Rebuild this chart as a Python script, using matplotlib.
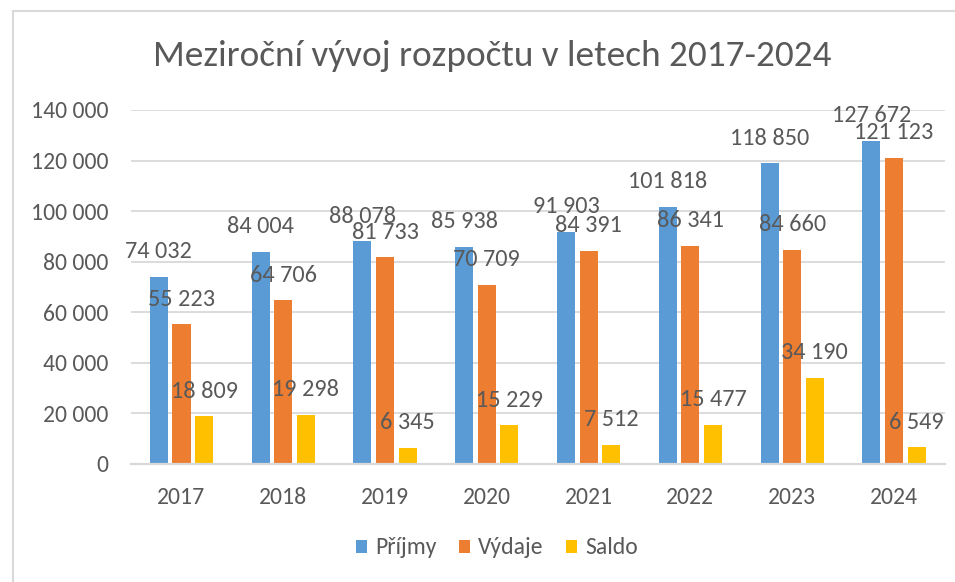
import matplotlib
matplotlib.use("Agg")
import matplotlib.pyplot as plt
from matplotlib.lines import Line2D
from matplotlib.patches import Patch
import numpy as np

years = ["2017", "2018", "2019", "2020", "2021", "2022", "2023", "2024"]
prijmy = [74032, 84004, 88078, 85938, 91903, 101818, 118850, 127672]
vydaje = [55223, 64706, 81733, 70709, 84391, 86341, 84660, 121123]
saldo = [18809, 19298, 6345, 15229, 7512, 15477, 34190, 6549]
series_names = ["Příjmy", "Výdaje", "Saldo"]
colors = ["#5B9BD5", "#ED7D31", "#FFC000"]
yticks = [0, 20000, 40000, 60000, 80000, 100000, 120000, 140000]
title = "Meziroční vývoj rozpočtu v letech 2017-2024"

plt.rcParams["font.family"] = ["Carlito", "DejaVu Sans"]

TXT = "#595959"
GRID = "#D9D9D9"

def fmt(v):
    return f"{v:,}".replace(",", " ")

W, H = 955, 582
fig = plt.figure(figsize=(W / 100, H / 100), dpi=100)
fig.patch.set_facecolor("white")

ax = fig.add_axes([130.6 / W, (H - 464) / H, (944.9 - 130.6) / W, (464 - 110) / H])
x = np.arange(len(years))
bw = 0.177
off = 0.222
for i, (vals, c) in enumerate(zip([prijmy, vydaje, saldo], colors)):
    xs = x + (i - 1) * off
    ax.bar(xs, vals, width=bw, color=c, zorder=3)
    for xi, v in zip(xs, vals):
        ax.annotate(fmt(v), (xi, v), xytext=(0, 18.2), textcoords="offset points",
                    ha="center", va="center", fontsize=17.5, color=TXT,
                    annotation_clip=False, zorder=4)

ax.set_xlim(-0.5, len(years) - 0.5)
ax.set_ylim(0, 140000)
ax.set_yticks(yticks)
ax.set_yticklabels([fmt(v) for v in yticks])
ax.set_xticks(x)
ax.set_xticklabels(years)
ax.tick_params(axis="y", length=0, pad=16, labelsize=17, labelcolor=TXT)
ax.tick_params(axis="x", length=0, pad=16.5, labelsize=17, labelcolor=TXT)
for s in ["top", "right", "left"]:
    ax.spines[s].set_visible(False)
ax.spines["bottom"].set_color(GRID)
ax.spines["bottom"].set_linewidth(1.6)
ax.spines["bottom"].set_zorder(4)
ax.yaxis.grid(True, color=GRID, linewidth=1.3, zorder=0)
ax.set_axisbelow(True)
ax.set_facecolor("none")

# chart border (left and top only visible)
fig.add_artist(Line2D([13 / W, 13 / W], [0, (H - 11) / H], transform=fig.transFigure,
                      color=GRID, linewidth=1.5))
fig.add_artist(Line2D([13 / W, 1], [(H - 11) / H, (H - 11) / H], transform=fig.transFigure,
                      color=GRID, linewidth=1.5))

t = fig.text(492 / W, (H - 56) / H, title, ha="center", va="center",
             fontsize=26, color=TXT)
# fit title width to the reference width (~679 px)
r = fig.canvas.get_renderer()
w = t.get_window_extent(r).width
t.set_fontsize(26 * 679 / w)

handles = [Patch(facecolor=c, edgecolor="none") for c in colors]
fig.legend(handles, series_names, loc="center", bbox_to_anchor=(497 / W, (H - 548) / H),
           ncol=3, frameon=False, fontsize=17, labelcolor=TXT,
           handlelength=0.47, handleheight=0.47, handletextpad=0.35, columnspacing=0.95)

fig.savefig("out.png", dpi=100)
